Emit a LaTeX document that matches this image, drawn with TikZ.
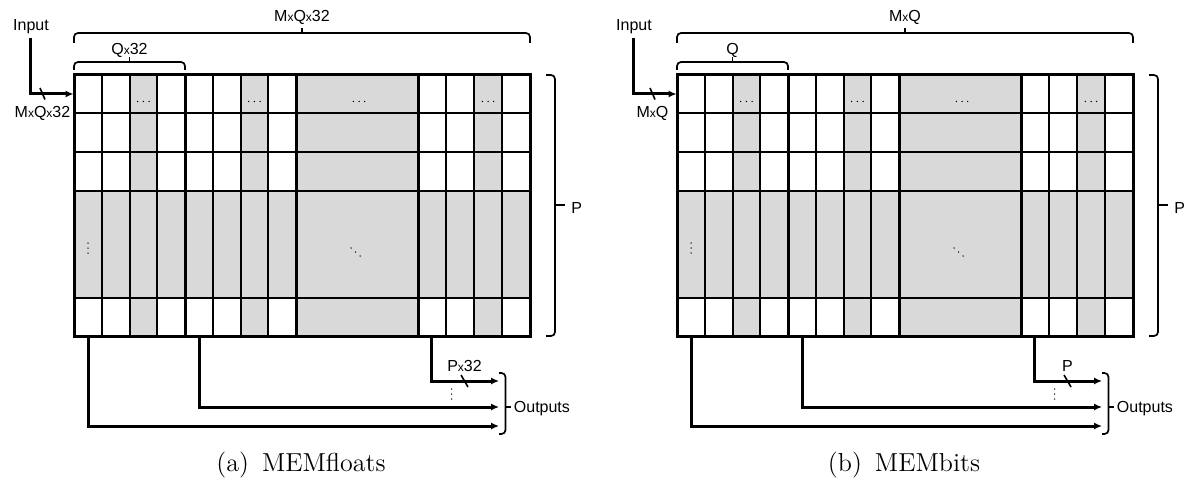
\documentclass[tikz,border=0pt]{standalone}
\usepackage{fontspec}
\setsansfont{Liberation Sans}
\usetikzlibrary{arrows.meta}
\definecolor{cellgray}{RGB}{217,217,217}
\tikzset{
  lbl/.style={font=\sffamily\fontsize{8}{9}\selectfont, inner sep=0pt, anchor=base},
  thinrule/.style={line width=1pt},
  thickrule/.style={line width=1.5pt},
  bracket/.style={line width=0.85pt, rounded corners=2pt},
  wire/.style={line width=1.5pt, -{Latex[length=4pt,width=3.6pt]}},
  slashline/.style={line width=0.8pt},
  capt/.style={font=\fontsize{13}{15}\selectfont, inner sep=0pt, anchor=base},
}
\newcommand\smx{{\fontsize{6}{7}\selectfont x}}
\newcommand\hdotsat[2]{\fill (#1-5.7,#2) circle (0.375pt) (#1,#2) circle (0.375pt) (#1+5.7,#2) circle (0.375pt);}
\newcommand\vdotsat[2]{\fill (#1,#2-5) circle (0.375pt) (#1,#2) circle (0.375pt) (#1,#2+5) circle (0.375pt);}
\newcommand\MEMpanel[8]{%
\begin{scope}[shift={(#2,0)}]
  \fill[cellgray] (129.5,75) rectangle (157.25,336);
  \fill[cellgray] (240.5,75) rectangle (268.25,336);
  \fill[cellgray] (296,75) rectangle (418,336);
  \fill[cellgray] (474,75) rectangle (502,336);
  \fill[cellgray] (74,191) rectangle (530,298);
  \draw[thinrule] (74,113.5) -- (530,113.5) (74,152) -- (530,152)
     (74,191) -- (530,191) (74,298) -- (530,298)
     (101.75,75) -- (101.75,336) (129.5,75) -- (129.5,336) (157.25,75) -- (157.25,336)
     (212.75,75) -- (212.75,336) (240.5,75) -- (240.5,336) (268.25,75) -- (268.25,336)
     (446,75) -- (446,336) (474,75) -- (474,336) (502,75) -- (502,336);
  \draw[thickrule] (74,75) rectangle (530,336) (185,75) -- (185,336)
     (296,75) -- (296,336) (418,75) -- (418,336);
  \hdotsat{143.4}{101.5} \hdotsat{254.4}{101.5} \hdotsat{359}{101.5} \hdotsat{488}{101.5}
  \vdotsat{88}{248}
  \fill (351,248) circle (0.375pt) (355.5,252) circle (0.375pt) (360,256) circle (0.375pt);
  % top brace
  \draw[bracket] (74,43) -- (74,33) -- (530,33) -- (530,43);
  \draw[bracket] (302,33) -- (302,28);
  \node[lbl] (#1top) at (302,21.7) {#3};
  % group brace
  \draw[bracket] (74,70) -- (74,62) -- (185,62) -- (185,70);
  \draw[bracket] (129.5,62) -- (129.5,57);
  \node[lbl] (#1grp) at (129.5,55) {#4};
  % P brace
  \draw[bracket] (546,75) -- (555,75) -- (555,336) -- (546,336);
  \draw[bracket] (555,205) -- (565,205);
  \node[lbl, anchor=base west] (#1p) at (571,213.8) {P};
  % input
  \node[lbl] (#1input) at (31,30.7) {Input};
  \coordinate (#1inA) at (30,38);
  \coordinate (#1inB) at (73.5,94);
  \draw[wire] (#1inA) |- (#1inB);
  \draw[slashline] (#6-2.5,88) -- (#6+2.5,99.5);
  \node[lbl] (#1inlbl) at (#6,118) {#5};
  % outputs
  \coordinate (#1oA) at (88.5,336);
  \coordinate (#1oAe) at (499,426);
  \coordinate (#1oB) at (199,336);
  \coordinate (#1oBe) at (499,407);
  \coordinate (#1oC) at (431.5,336);
  \coordinate (#1oCe) at (499,381);
  \draw[wire] (#1oA) |- (#1oAe);
  \draw[wire] (#1oB) |- (#1oBe);
  \draw[wire] (#1oC) |- (#1oCe);
  \draw[slashline] (461,375) -- (468,387);
  \node[lbl] (#1outlbl) at (464.5,371) {#7};
  \vdotsat{451.7}{394}
  \draw[bracket] (499,373) -- (505.5,373) -- (505.5,434) -- (499,434);
  \draw[bracket] (505.5,407) -- (511,407);
  \node[lbl, anchor=base west] (#1outs) at (513.5,412) {Outputs};
  \node[capt] (#1cap) at (301,471.5) {#8};
\end{scope}}
\begin{document}
\begin{tikzpicture}[x=0.5pt,y=-0.5pt]
\useasboundingbox (0,0) rectangle (1188,481);
\MEMpanel{a}{0}{M\smx Q\smx 32}{Q\smx 32}{M\smx Q\smx 32}{42.5}{P\smx 32}{(a)\enspace MEMfloats}
\MEMpanel{b}{603}{M\smx Q}{Q}{M\smx Q}{49.5}{P}{(b)\enspace MEMbits}
\end{tikzpicture}
\end{document}
